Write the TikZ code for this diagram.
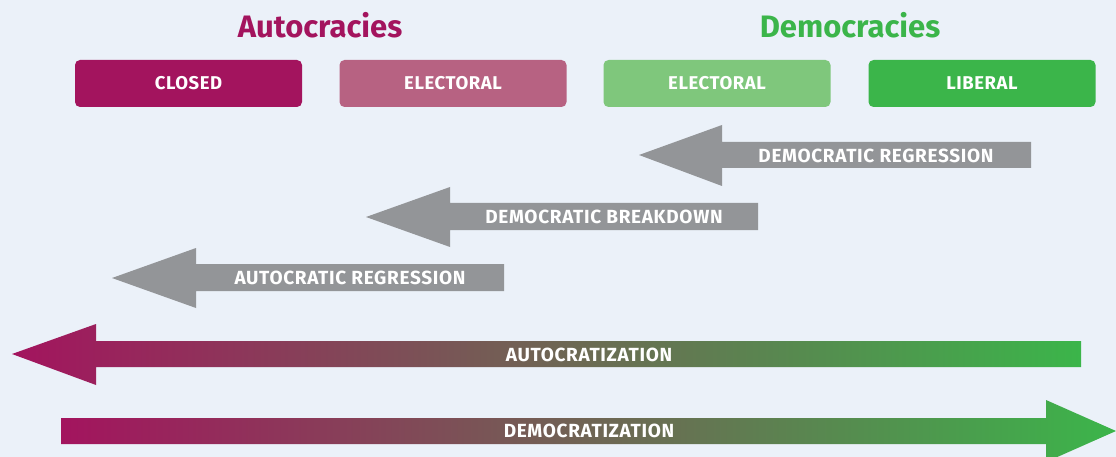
\documentclass[tikz,border=0pt]{standalone}
\usepackage{fontspec}
\setmainfont{Fira Sans}
\usetikzlibrary{positioning}

\definecolor{bgblue}{RGB}{235,241,249}
\definecolor{autocol}{RGB}{163,20,94}
\definecolor{eacol}{RGB}{183,98,130}
\definecolor{edcol}{RGB}{127,199,124}
\definecolor{demcol}{RGB}{59,181,74}
\definecolor{midcol}{RGB}{145,118,100}
\definecolor{arrgray}{RGB}{147,149,152}

\tikzset{every picture/.style={line width=0.75pt}}
\tikzset{
  regime/.style={minimum width=227pt, minimum height=47pt, rounded corners=5pt, inner sep=0pt, text=white, font=\bfseries\fontsize{18.5}{18.5}\selectfont\addfontfeatures{LetterSpace=3}},
  title/.style={anchor=base, inner sep=0pt, font=\bfseries\fontsize{31}{31}\selectfont},
  shift arrow/.style={fill=arrgray, draw=none},
  arrlabel/.style={inner sep=0pt, text=white, font=\bfseries\fontsize{19}{19}\selectfont\addfontfeatures{LetterSpace=3.5}}
}

\begin{document}
\begin{tikzpicture}[x=1pt,y=1pt,yscale=-1,xscale=1]
\fill[bgblue] (0,0) rectangle (1116,457);
\useasboundingbox (0,0) rectangle (1116,457);

% Titles
\node[title, text=autocol] (autotitle) at (320,38) {Autocracies};
\node[title, text=demcol] (demtitle) at (850,38) {Democracies};

% Regime boxes
\node[regime, fill=autocol] (closed) at (188.5,83.5) {CLOSED};
\node[regime, fill=eacol] (eauto) at (453,83.5) {ELECTORAL};
\node[regime, fill=edcol] (edemo) at (717,83.5) {ELECTORAL};
\node[regime, fill=demcol] (liberal) at (982,83.5) {LIBERAL};

% Left Arrow: democratic regression
\fill[shift arrow] (639,155) -- (722,125) -- (722,142) -- (1031,142) -- (1031,168) -- (722,168) -- (722,186) -- cycle;
% Left Arrow: democratic breakdown
\fill[shift arrow] (366,217) -- (450,187) -- (450,203) -- (758,203) -- (758,230) -- (450,230) -- (450,247) -- cycle;
% Left Arrow: autocratic regression
\fill[shift arrow] (112,278) -- (196,248) -- (196,264) -- (504,264) -- (504,291) -- (196,291) -- (196,308) -- cycle;
% Left Arrow: autocratization
\shade[left color=autocol, middle color=midcol, right color=demcol] (12,354) -- (96,324) -- (96,341) -- (1081,341) -- (1081,367) -- (96,367) -- (96,385) -- cycle;
% Right Arrow: democratization
\shade[left color=autocol, middle color=midcol, right color=demcol] (61,418) -- (1046,418) -- (1046,400) -- (1116,431) -- (1046,462) -- (1046,444) -- (61,444) -- cycle;

% Text Node
\node[arrlabel] (dreg) at (876,155.5) {DEMOCRATIC REGRESSION};
% Text Node
\node[arrlabel] (dbreak) at (604,216.5) {DEMOCRATIC BREAKDOWN};
% Text Node
\node[arrlabel] (areg) at (350,277.5) {AUTOCRATIC REGRESSION};
% Text Node
\node[arrlabel] (autoz) at (589,354.5) {AUTOCRATIZATION};
% Text Node
\node[arrlabel] (demz) at (589,431) {DEMOCRATIZATION};

\end{tikzpicture}
\end{document}
